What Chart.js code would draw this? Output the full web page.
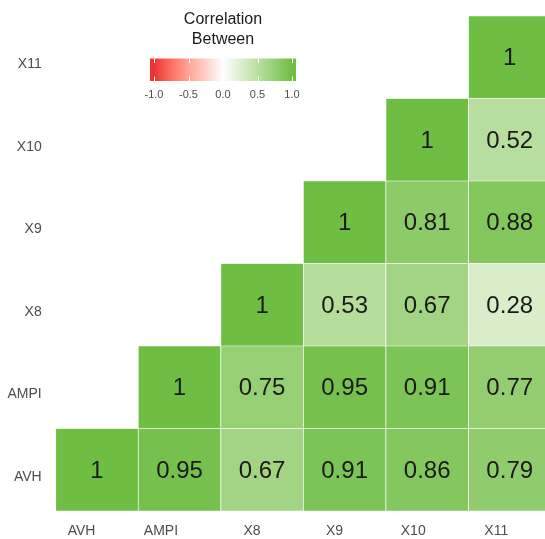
<!DOCTYPE html>
<html>
<head>
<meta charset="utf-8">
<script src="https://cdn.jsdelivr.net/npm/chart.js@4/dist/chart.umd.min.js"></script>
<style>
  html, body { margin: 0; padding: 0; background: #ffffff; overflow: hidden; }
  #wrap { width: 551px; height: 539px; }
</style>
</head>
<body>
<div id="wrap"><canvas id="c"></canvas></div>
<script>
// Variables, bottom-to-top on y and left-to-right on x
const variables = ['AVH', 'AMPI', 'X8', 'X9', 'X10', 'X11'];

// Upper-triangle correlations, one array per row (null = empty cell)
const rowAVH  = [1, 0.95, 0.67, 0.91, 0.86, 0.79];
const rowAMPI = [null, 1, 0.75, 0.95, 0.91, 0.77];
const rowX8   = [null, null, 1, 0.53, 0.67, 0.28];
const rowX9   = [null, null, null, 1, 0.81, 0.88];
const rowX10  = [null, null, null, null, 1, 0.52];
const rowX11  = [null, null, null, null, null, 1];

const legendTicks = [-1.0, -0.5, 0.0, 0.5, 1.0];
const legendTitle = ['Correlation', 'Between'];

const rows = [rowAVH, rowAMPI, rowX8, rowX9, rowX10, rowX11];

// ---- diverging colour scale (interpolated in CIE Lab) ----
const LOW = [236, 50, 52], MID = [255, 255, 255], HIGH = [110, 190, 68];
function lin(c) { c /= 255; return c <= 0.04045 ? c / 12.92 : Math.pow((c + 0.055) / 1.055, 2.4); }
function unlin(c) { const v = c <= 0.0031308 ? 12.92 * c : 1.055 * Math.pow(c, 1 / 2.4) - 0.055; return Math.max(0, Math.min(255, Math.round(v * 255))); }
function toLab(rgb) {
  const [R, G, B] = rgb.map(lin);
  const X = (0.4124 * R + 0.3576 * G + 0.1805 * B) / 0.95047;
  const Y = (0.2126 * R + 0.7152 * G + 0.0722 * B);
  const Z = (0.0193 * R + 0.1192 * G + 0.9505 * B) / 1.08883;
  const f = t => t > 0.008856 ? Math.cbrt(t) : 7.787 * t + 16 / 116;
  const fx = f(X), fy = f(Y), fz = f(Z);
  return [116 * fy - 16, 500 * (fx - fy), 200 * (fy - fz)];
}
function fromLab([L, a, b]) {
  const fy = (L + 16) / 116, fx = fy + a / 500, fz = fy - b / 200;
  const fi = t => t ** 3 > 0.008856 ? t ** 3 : (t - 16 / 116) / 7.787;
  const X = fi(fx) * 0.95047, Y = fi(fy), Z = fi(fz) * 1.08883;
  const R = 3.2406 * X - 1.5372 * Y - 0.4986 * Z;
  const G = -0.9689 * X + 1.8758 * Y + 0.0415 * Z;
  const Bb = 0.0557 * X - 0.2040 * Y + 1.0570 * Z;
  return [unlin(R), unlin(G), unlin(Bb)];
}
const labLow = toLab(LOW), labMid = toLab(MID), labHigh = toLab(HIGH);
function corrColour(v) {
  v = Math.max(-1, Math.min(1, v));
  const end = v >= 0 ? labHigh : labLow, t = Math.abs(v);
  const lab = labMid.map((m, i) => m + (end[i] - m) * t);
  const [r, g, b] = fromLab(lab);
  return `rgb(${r},${g},${b})`;
}

// ---- one floating-bar dataset per row ----
const datasets = rows.map((vals, r) => ({
  data: vals.map(v => v === null ? null : [r, r + 1]),
  corr: vals,
  backgroundColor: vals.map(v => v === null ? 'rgba(0,0,0,0)' : corrColour(v)),
  borderColor: '#ffffff',
  borderWidth: 0.7,
  borderSkipped: false,
  barPercentage: 1,
  categoryPercentage: 1,
  grouped: false
}));

// value text inside each cell
const cellText = {
  id: 'cellText',
  afterDatasetsDraw(chart) {
    const ctx = chart.ctx;
    ctx.save();
    ctx.font = '24px "Liberation Sans", Arial, sans-serif';
    ctx.fillStyle = '#1a1a1a';
    ctx.textAlign = 'center';
    ctx.textBaseline = 'middle';
    chart.data.datasets.forEach((ds, di) => {
      chart.getDatasetMeta(di).data.forEach((el, i) => {
        const v = ds.corr[i];
        if (v === null) return;
        ctx.fillText(String(v), el.x, (el.y + el.base) / 2 + 1.5);
      });
    });
    ctx.restore();
  }
};

// colour-bar key in the empty upper-left corner
const colourKey = {
  id: 'colourKey',
  afterDraw(chart) {
    const ctx = chart.ctx;
    const cx = 223, unit = 69;
    const bx = 150, bw = 146, by = 58.5, bh = 22.5;
    ctx.save();
    ctx.fillStyle = '#1a1a1a';
    ctx.font = '16px "Liberation Sans", Arial, sans-serif';
    ctx.textAlign = 'center';
    ctx.textBaseline = 'middle';
    ctx.fillText(legendTitle[0], cx, 20);
    ctx.fillText(legendTitle[1], cx, 39.5);

    const grad = ctx.createLinearGradient(bx, 0, bx + bw, 0);
    for (let k = 0; k <= 40; k++) {
      const px = bx + bw * k / 40;
      grad.addColorStop(k / 40, corrColour((px - cx) / unit));
    }
    ctx.fillStyle = grad;
    ctx.fillRect(bx, by, bw, bh);

    ctx.strokeStyle = '#ffffff';
    ctx.lineWidth = 1;
    ctx.font = '11px "Liberation Sans", Arial, sans-serif';
    legendTicks.forEach(t => {
      const x = Math.round(cx + t * unit) + 0.5;
      ctx.beginPath();
      ctx.moveTo(x, by); ctx.lineTo(x, by + 4.5);
      ctx.moveTo(x, by + bh - 4.5); ctx.lineTo(x, by + bh);
      ctx.stroke();
      ctx.fillStyle = '#4d4d4d';
      ctx.fillText(t.toFixed(1), cx + t * unit, 95);
    });
    ctx.restore();
  }
};

new Chart(document.getElementById('c'), {
  type: 'bar',
  data: { labels: variables, datasets },
  options: {
    responsive: true,
    maintainAspectRatio: false,
    animation: false,
    layout: { padding: { top: 16, left: 0, right: 0, bottom: 0 } },
    plugins: { legend: { display: false }, tooltip: { enabled: false } },
    scales: {
      x: {
        type: 'category',
        offset: true,
        grid: { display: false, drawTicks: false },
        border: { display: false },
        ticks: {
          align: 'end',
          labelOffset: -1.5,
          padding: 12,
          color: '#4d4d4d',
          font: { family: '"Liberation Sans", Arial, sans-serif', size: 14 }
        },
        afterFit: s => { s.height = 28; s.paddingLeft = 0; s.paddingRight = 0; }
      },
      y: {
        type: 'linear',
        min: 0,
        max: 6,
        grid: { display: false, drawTicks: false },
        border: { display: false },
        afterBuildTicks: s => { s.ticks = variables.map((_, i) => ({ value: i + 0.5 })); },
        ticks: {
          autoSkip: false,
          padding: 14,
          labelOffset: 7,
          color: '#4d4d4d',
          font: { family: '"Liberation Sans", Arial, sans-serif', size: 14 },
          callback: v => variables[Math.floor(v)]
        },
        afterFit: s => { s.width = 55.7; s.paddingTop = 0; s.paddingBottom = 0; }
      }
    }
  },
  plugins: [cellText, colourKey]
});
</script>
</body>
</html>
